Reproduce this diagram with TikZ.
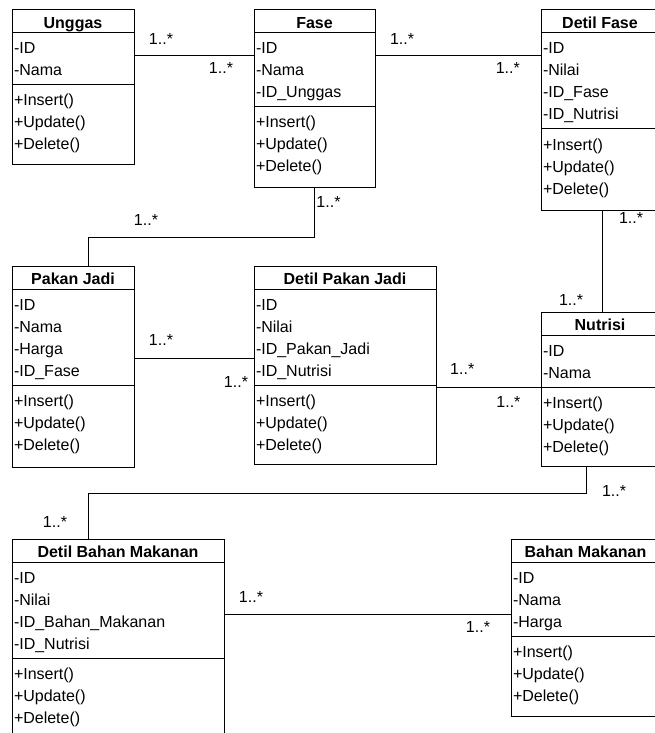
\documentclass[tikz,border=0pt]{standalone}
\usepackage{fontspec}
\setmainfont{Liberation Sans}
\usetikzlibrary{positioning}

\begin{document}
\begin{tikzpicture}[x=1pt, y=-1pt, line width=1pt,
  classbox/.style={draw, anchor=north west, inner sep=0pt, outer sep=0pt},
  classtitle/.style={draw, anchor=north, minimum height=23pt, inner sep=0pt, outer sep=0pt,
    text height=13.5pt, text depth=0pt, font=\fontsize{16}{22}\selectfont\bfseries},
  classattr/.style={draw, anchor=north, align=left, inner xsep=2pt, inner ysep=4pt, outer sep=0pt,
    font=\fontsize{16}{22}\selectfont,
    execute at begin node=\rule{0pt}{17pt}, execute at end node=\rule[-5pt]{0pt}{5pt}},
  classop/.style={classattr, draw=none},
  mult/.style={inner sep=0pt, font=\fontsize{16}{22}\selectfont}]
 \useasboundingbox (0,0) rectangle (654,733);

 % top row
 \node[classbox, minimum width=122pt, minimum height=154pt] (unggas) at (12,10) {};
 \node[classtitle, minimum width=122pt] (unggas-t) at (unggas.north) {Unggas};
 \node[classattr, text width=118pt, below=0pt of unggas-t] (unggas-a) {-ID\\-Nama};
 \node[classop, text width=118pt, below=0pt of unggas-a] (unggas-m) {+Insert()\\+Update()\\+Delete()};

 \node[classbox, minimum width=121pt, minimum height=177pt] (fase) at (254,10) {};
 \node[classtitle, minimum width=121pt] (fase-t) at (fase.north) {Fase};
 \node[classattr, text width=117pt, below=0pt of fase-t] (fase-a) {-ID\\-Nama\\-ID\_Unggas};
 \node[classop, text width=117pt, below=0pt of fase-a] (fase-m) {+Insert()\\+Update()\\+Delete()};

 \node[classbox, minimum width=118pt, minimum height=200pt] (detilfase) at (541,10) {};
 \node[classtitle, minimum width=118pt] (detilfase-t) at (detilfase.north) {Detil Fase};
 \node[classattr, text width=114pt, below=0pt of detilfase-t] (detilfase-a) {-ID\\-Nilai\\-ID\_Fase\\-ID\_Nutrisi};
 \node[classop, text width=114pt, below=0pt of detilfase-a] (detilfase-m) {+Insert()\\+Update()\\+Delete()};

 % middle row
 \node[classbox, minimum width=122pt, minimum height=201pt] (pakanjadi) at (12,266) {};
 \node[classtitle, minimum width=122pt] (pakanjadi-t) at (pakanjadi.north) {Pakan Jadi};
 \node[classattr, text width=118pt, below=0pt of pakanjadi-t] (pakanjadi-a) {-ID\\-Nama\\-Harga\\-ID\_Fase};
 \node[classop, text width=118pt, below=0pt of pakanjadi-a] (pakanjadi-m) {+Insert()\\+Update()\\+Delete()};

 \node[classbox, minimum width=182pt, minimum height=198pt] (detilpakan) at (254,266) {};
 \node[classtitle, minimum width=182pt] (detilpakan-t) at (detilpakan.north) {Detil Pakan Jadi};
 \node[classattr, text width=178pt, below=0pt of detilpakan-t] (detilpakan-a) {-ID\\-Nilai\\-ID\_Pakan\_Jadi\\-ID\_Nutrisi};
 \node[classop, text width=178pt, below=0pt of detilpakan-a] (detilpakan-m) {+Insert()\\+Update()\\+Delete()};

 \node[classbox, minimum width=118pt, minimum height=154pt] (nutrisi) at (541,312) {};
 \node[classtitle, minimum width=118pt] (nutrisi-t) at (nutrisi.north) {Nutrisi};
 \node[classattr, text width=114pt, below=0pt of nutrisi-t] (nutrisi-a) {-ID\\-Nama};
 \node[classop, text width=114pt, below=0pt of nutrisi-a] (nutrisi-m) {+Insert()\\+Update()\\+Delete()};

 % bottom row
 \node[classbox, minimum width=212pt, minimum height=198pt] (detilbahan) at (12,539) {};
 \node[classtitle, minimum width=212pt] (detilbahan-t) at (detilbahan.north) {Detil Bahan Makanan};
 \node[classattr, text width=208pt, below=0pt of detilbahan-t] (detilbahan-a) {-ID\\-Nilai\\-ID\_Bahan\_Makanan\\-ID\_Nutrisi};
 \node[classop, text width=208pt, below=0pt of detilbahan-a] (detilbahan-m) {+Insert()\\+Update()\\+Delete()};

 \node[classbox, minimum width=149pt, minimum height=177pt] (bahan) at (511,539) {};
 \node[classtitle, minimum width=149pt] (bahan-t) at (bahan.north) {Bahan Makanan};
 \node[classattr, text width=145pt, below=0pt of bahan-t] (bahan-a) {-ID\\-Nama\\-Harga};
 \node[classop, text width=145pt, below=0pt of bahan-a] (bahan-m) {+Insert()\\+Update()\\+Delete()};

 % associations
 \draw ([yshift=-46pt]unggas.north east)
   -- node[mult, pos=.225, yshift=17pt] (m1) {1..*} node[mult, pos=.725, yshift=-12pt] (m2) {1..*}
   ([yshift=-46pt]fase.north west);
 \draw ([yshift=-46pt]fase.north east)
   -- node[mult, pos=.163, yshift=17pt] (m3) {1..*} node[mult, pos=.8, yshift=-12pt] (m4) {1..*}
   ([yshift=-46pt]detilfase.north west);
 \draw (fase.south) node[mult, xshift=14pt, yshift=-15pt] (m5) {1..*}
   -- ++(0,50) -| ([xshift=15pt]pakanjadi.north) node[mult, xshift=58pt, yshift=46pt] (m6) {1..*};
 \draw ([yshift=-92pt]pakanjadi.north east)
   -- node[mult, pos=.225, yshift=18pt] (m7) {1..*} node[mult, pos=.85, yshift=-24pt] (m8) {1..*}
   ([yshift=-92pt]detilpakan.north west);
 \draw ([xshift=2pt]detilfase.south) node[mult, xshift=29pt, yshift=-8pt] (m9) {1..*}
   -- ([xshift=2pt]nutrisi.north) node[mult, xshift=-31pt, yshift=12pt] (m10) {1..*};
 \draw ([yshift=-121pt]detilpakan.north east)
   -- node[mult, pos=.25, yshift=18pt] (m11) {1..*} node[mult, pos=.69, yshift=-15pt] (m12) {1..*}
   ([yshift=-75pt]nutrisi.north west);
 \draw ([xshift=-14pt]nutrisi.south) node[mult, xshift=28pt, yshift=-25pt] (m13) {1..*}
   -- ++(0,27) -| ([xshift=-30pt]detilbahan.north) node[mult, xshift=-33pt, yshift=17pt] (m14) {1..*};
 \draw ([yshift=-75pt]detilbahan.north east)
   -- node[mult, pos=.094, yshift=17pt] (m15) {1..*} node[mult, pos=.885, yshift=-13pt] (m16) {1..*}
   ([yshift=-75pt]bahan.north west);
\end{tikzpicture}
\end{document}
